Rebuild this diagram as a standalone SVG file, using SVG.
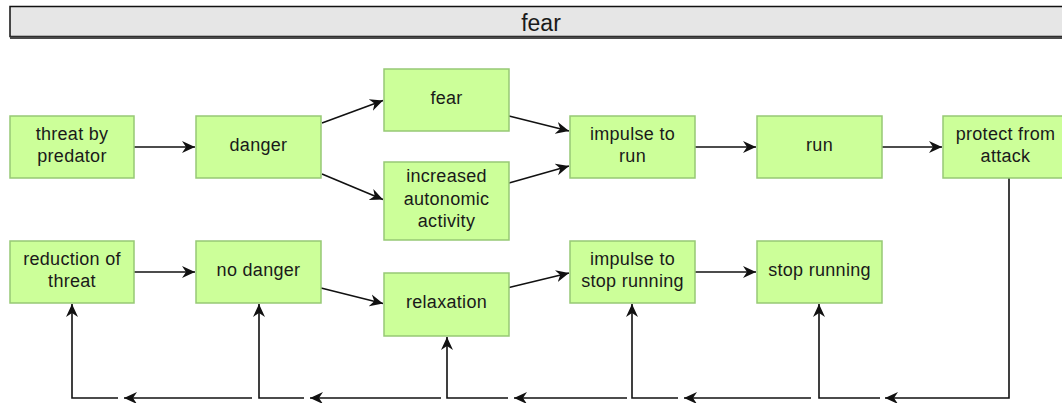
<svg xmlns="http://www.w3.org/2000/svg" width="1062" height="403" viewBox="0 0 1062 403">
<defs>
<style>
.node rect{fill:#ccff99;stroke:#97c975;stroke-width:1.5}
.node text,.title text{font-family:"Liberation Sans",Arial,sans-serif;fill:#1a1a1a;text-anchor:middle}
.node text{font-size:18px;letter-spacing:0.3px}
.conn path{fill:none;stroke:#111;stroke-width:1.6}
</style>
<marker id="arr" markerUnits="userSpaceOnUse" markerWidth="14" markerHeight="14" viewBox="0 0 14 14" refX="13" refY="7" orient="auto">
<path d="M0,1 L13,7 L0,13 L4,7 z" fill="#111"/>
</marker>
</defs>
<rect width="1062" height="403" fill="#ffffff"/>
<g id="title" class="title">
<rect x="10" y="6.5" width="1062" height="30" fill="#e6e6e6" stroke="#111" stroke-width="1.5"/>
<rect x="10" y="36.5" width="1062" height="2.5" fill="#4a4a4a"/>
<text x="541" y="31" font-size="23">fear</text>
</g>
<g id="connectors" class="conn">
<path d="M134,147 H195" marker-end="url(#arr)"/>
<path d="M322,123 L383,100.5" marker-end="url(#arr)"/>
<path d="M322,174 L383,199.5" marker-end="url(#arr)"/>
<path d="M509,116 L569,131" marker-end="url(#arr)"/>
<path d="M509,183 L569,166" marker-end="url(#arr)"/>
<path d="M695,147 H756" marker-end="url(#arr)"/>
<path d="M882,147 H942" marker-end="url(#arr)"/>
<path d="M134,272 H195" marker-end="url(#arr)"/>
<path d="M321,288 L383,303.5" marker-end="url(#arr)"/>
<path d="M509,287.5 L569,273" marker-end="url(#arr)"/>
<path d="M695,272 H756" marker-end="url(#arr)"/>
<path d="M1009,178 V398 H885" marker-end="url(#arr)"/>
<path d="M880,398 H819 V304" marker-end="url(#arr)"/>
<path d="M811,398 H684" marker-end="url(#arr)"/>
<path d="M678,398 H632 V304" marker-end="url(#arr)"/>
<path d="M627,398 H514" marker-end="url(#arr)"/>
<path d="M508,398 H447 V337" marker-end="url(#arr)"/>
<path d="M441,398 H310" marker-end="url(#arr)"/>
<path d="M304,398 H259 V304" marker-end="url(#arr)"/>
<path d="M252,398 H124" marker-end="url(#arr)"/>
<path d="M118,398 H72 V304" marker-end="url(#arr)"/>
</g>
<g id="n1" class="node"><rect x="10" y="116" width="124" height="62"/><text x="72" y="140">threat by</text><text x="72" y="162">predator</text></g>
<g id="n2" class="node"><rect x="196" y="116" width="125" height="62"/><text x="258.5" y="151">danger</text></g>
<g id="n3" class="node"><rect x="384" y="69" width="125" height="62"/><text x="446.5" y="104">fear</text></g>
<g id="n4" class="node"><rect x="384" y="162" width="125" height="78"/><text x="446.5" y="182">increased</text><text x="446.5" y="204.5">autonomic</text><text x="446.5" y="227">activity</text></g>
<g id="n5" class="node"><rect x="570" y="116" width="125" height="62"/><text x="632.5" y="140">impulse to</text><text x="632.5" y="162">run</text></g>
<g id="n6" class="node"><rect x="757" y="116" width="125" height="62"/><text x="819.5" y="151">run</text></g>
<g id="n7" class="node"><rect x="943" y="116" width="125" height="62"/><text x="1005.5" y="140">protect from</text><text x="1005.5" y="162">attack</text></g>
<g id="n8" class="node"><rect x="10" y="241" width="124" height="62"/><text x="72" y="265">reduction of</text><text x="72" y="287">threat</text></g>
<g id="n9" class="node"><rect x="196" y="241" width="125" height="62"/><text x="258.5" y="276">no danger</text></g>
<g id="n10" class="node"><rect x="384" y="273" width="125" height="63"/><text x="446.5" y="308">relaxation</text></g>
<g id="n11" class="node"><rect x="570" y="241" width="125" height="62"/><text x="632.5" y="265">impulse to</text><text x="632.5" y="287">stop running</text></g>
<g id="n12" class="node"><rect x="757" y="241" width="125" height="62"/><text x="819.5" y="276">stop running</text></g>
</svg>
